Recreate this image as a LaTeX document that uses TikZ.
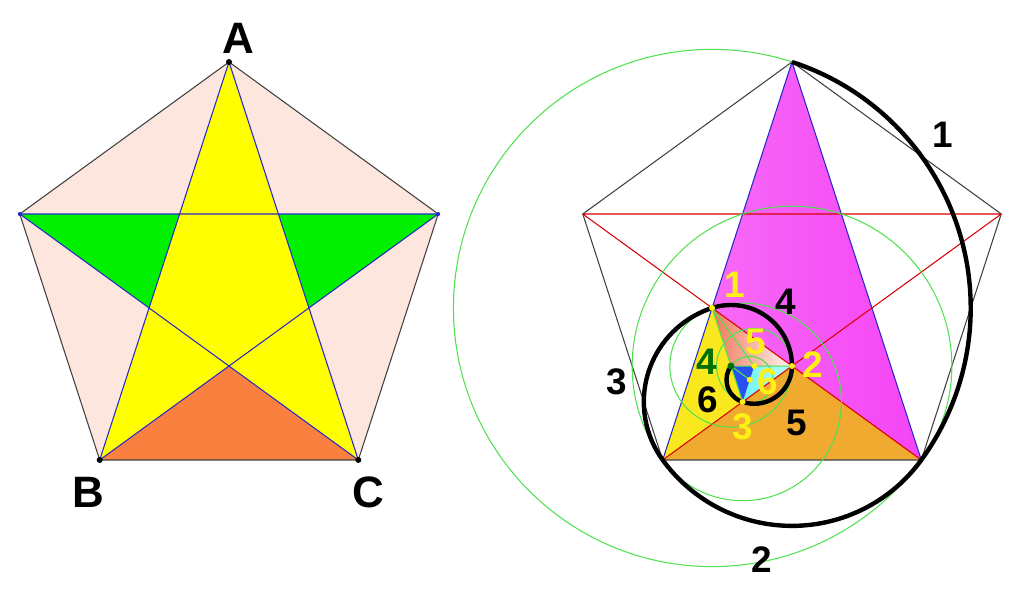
\documentclass[tikz,border=0pt]{standalone}
\usepackage{fontspec}
\setmainfont{Liberation Sans}
\usetikzlibrary{calc}
\definecolor{peach}{RGB}{252,230,222}
\definecolor{staryellow}{RGB}{255,255,0}
\definecolor{armgreen}{RGB}{0,240,0}
\definecolor{baseorange}{RGB}{250,128,64}
\definecolor{diagblue}{RGB}{40,40,200}
\definecolor{gmagenta}{RGB}{245,68,245}
\definecolor{gorange}{RGB}{240,170,48}
\definecolor{gyellow}{RGB}{250,232,30}
\definecolor{gsalmon}{RGB}{240,120,90}
\definecolor{gcyan}{RGB}{110,245,245}
\definecolor{gblue}{RGB}{40,80,240}
\definecolor{circgreen}{RGB}{80,225,80}
\definecolor{numyellow}{RGB}{255,240,20}
\definecolor{numgreen}{RGB}{0,110,0}
\tikzset{
 penline/.style={draw=black!75, line width=0.3pt},
 diagline/.style={draw=diagblue, line width=0.3pt},
 redline/.style={draw=red!85!black, line width=0.3pt},
 greenline/.style={draw=circgreen, line width=0.3pt},
 spiral/.style={draw=black, line width=1.25pt},
 letter/.style={font=\fontsize{12.5}{14}\selectfont\bfseries, inner sep=0pt},
 num/.style={font=\fontsize{10.5}{12}\selectfont\bfseries, inner sep=0pt},
}
\begin{document}
\begin{tikzpicture}[x=0.01cm, y=0.01cm]
 \useasboundingbox (0,0) rectangle (1024,612);
 \coordinate (Ol) at (229,330);
 \foreach \n/\a in {A/90, Lw/162, B/234, C/306, Le/18}
  \coordinate (\n) at ($(Ol)+(\a:220)$);
 \coordinate (Xw) at (intersection of Lw--Le and A--B);
 \coordinate (Yw) at (intersection of Lw--C and A--B);
 \coordinate (Xe) at (intersection of Lw--Le and A--C);
 \coordinate (Ye) at (intersection of Le--B and A--C);
 \coordinate (Xs) at (intersection of B--Le and C--Lw);
 \fill[peach] (A) -- (Lw) -- (B) -- (C) -- (Le) -- cycle;
 \fill[staryellow] (A) -- (B) -- (Le) -- (Lw) -- (C) -- cycle;
 \fill[armgreen] (Lw) -- (Xw) -- (Yw) -- cycle;
 \fill[armgreen] (Le) -- (Xe) -- (Ye) -- cycle;
 \fill[baseorange] (B) -- (C) -- (Xs) -- cycle;
 \draw[penline] (A) -- (Lw) -- (B) -- (C) -- (Le) -- cycle;
 \draw[diagline] (A) -- (B) -- (Le) -- (Lw) -- (C) -- cycle;
 \foreach \n in {A,B,C}
  \fill (\n) circle[radius=3];
 \foreach \n in {Lw,Le}
  \fill[diagblue] (\n) circle[radius=2];
 \node[letter] (labA) at (238,574) {A};
 \node[letter] (labB) at (88,120) {B};
 \node[letter] (labC) at (368,120) {C};

 \coordinate (Or) at (792,330);
 \foreach \n/\a in {T/90, Rw/162, BL/234, BR/306, Re/18}
  \coordinate (\n) at ($(Or)+(\a:220)$);
 \coordinate (P1) at ($(T)!0.618034!(BL)$);
 \coordinate (P2) at ($(BR)!0.618034!(P1)$);
 \coordinate (P3) at ($(BL)!0.618034!(P2)$);
 \coordinate (P4) at ($(P1)!0.618034!(P3)$);
 \coordinate (P5) at ($(P2)!0.618034!(P4)$);
 \coordinate (P6) at ($(P3)!0.618034!(P5)$);
 \shade[left color=gmagenta!80!white, right color=gmagenta] (T) -- (P1) -- (BR) -- cycle;
 \fill[gorange] (BL) -- (BR) -- (P2) -- cycle;
 \fill[gyellow] (P1) -- (BL) -- (P3) -- cycle;
 \shade[left color=gsalmon, right color=white!92!gsalmon] (P1) -- (P4) -- (P2) -- cycle;
 \shade[left color=gcyan, right color=gcyan!45!white] (P2) -- (P3) -- (P5) -- cycle;
 \fill[gblue] (P3) -- (P4) -- (P5) -- cycle;
 \draw[penline] (T) -- (Rw) -- (BL) -- (BR) -- (Re) -- cycle;
 \draw[redline] (Rw) -- (Re) (Rw) -- (BR) (Re) -- (BL);
 \draw[diagline] (BL) -- (T) -- (BR);
 \draw[greenline] (P1) -- (P3) (P1) -- (P5) (P4) -- (P2) (P4) -- (P6);
 \foreach \i in {1,...,6}
  \draw[greenline] (P\i) circle[radius={258.63*0.618034^(\i-1)}];
 \draw[spiral] (T) \foreach \i in {0,...,5} {
  arc[start angle={72-108*\i}, delta angle=-108, radius={258.63*0.618034^\i}]};
 \foreach \i in {1,2,3,5,6}
  \fill[numyellow] (P\i) circle[radius=3];
 \fill[numgreen] (P4) circle[radius=3.5];
 \node[num] (n1) at (943,477) {1};
 \node[num] (n2) at (762,52) {2};
 \node[num] (n3) at (617,230) {3};
 \node[num] (n4) at (786,310) {4};
 \node[num] (n5) at (797,189) {5};
 \node[num] (n6) at (708,212) {6};
 \node[num, numyellow] (m1) at (735,327) {1};
 \node[num, numyellow] (m2) at (813,247) {2};
 \node[num, numyellow] (m3) at (743,185) {3};
 \node[num, numgreen] (m4) at (707,250) {4};
 \node[num, numyellow] (m5) at (756,270) {5};
 \node[num, numyellow] (m6) at (768,230) {6};
\end{tikzpicture}
\end{document}
